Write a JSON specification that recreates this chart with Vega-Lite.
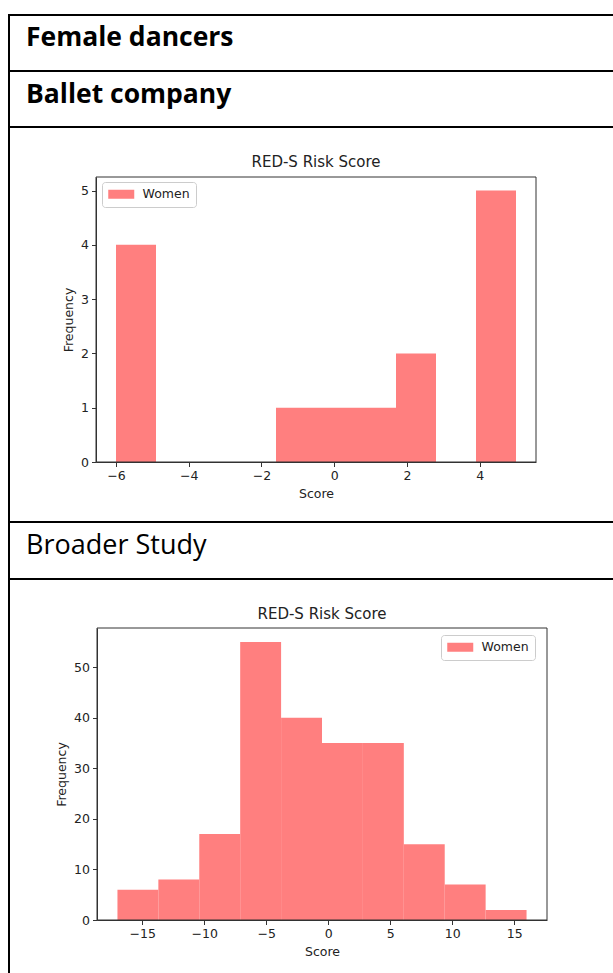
{
  "$schema": "https://vega.github.io/schema/vega-lite/v6.json",
  "padding": {"left": 8, "top": 14, "right": 0, "bottom": 0},
  "spacing": 0,
  "bounds": "flush",
  "background": "white",
  "config": {
    "view": {"stroke": "black", "strokeWidth": 2},
    "font": "DejaVu Sans",
    "axis": {
      "domain": true, "domainColor": "#333333", "domainWidth": 1,
      "ticks": true, "tickColor": "#333333", "tickSize": 4.5, "tickWidth": 1,
      "labelFont": "DejaVu Sans", "labelFontSize": 12.5, "labelColor": "#222222", "labelPadding": 3,
      "labelFlush": false,
      "titleFont": "DejaVu Sans", "titleFontSize": 12.5, "titleFontWeight": "normal", "titleColor": "#222222", "titlePadding": 5,
      "grid": false, "zindex": 1
    },
    "legend": {
      "title": null, "orient": "none",
      "symbolType": "M-2.1667,-0.75H2.1667V0.75H-2.1667Z", "symbolSize": 144, "symbolOffset": 7,
      "symbolStrokeWidth": 0, "symbolOpacity": 1, "labelOffset": 15,
      "labelFont": "DejaVu Sans", "labelFontSize": 12.5, "labelColor": "#222222",
      "padding": 6, "fillColor": "rgba(255,255,255,0.8)", "strokeColor": "#cccccc", "cornerRadius": 3
    }
  },
  "resolve": {"scale": {"color": "independent"}, "legend": {"color": "independent"}},
  "datasets": {
    "ballet": [
      {"bin_start": -6.0, "bin_end": -4.9, "count": 4, "sex": "Women"},
      {"bin_start": -4.9, "bin_end": -3.8, "count": 0, "sex": "Women"},
      {"bin_start": -3.8, "bin_end": -2.7, "count": 0, "sex": "Women"},
      {"bin_start": -2.7, "bin_end": -1.6, "count": 0, "sex": "Women"},
      {"bin_start": -1.6, "bin_end": -0.5, "count": 1, "sex": "Women"},
      {"bin_start": -0.5, "bin_end": 0.6, "count": 1, "sex": "Women"},
      {"bin_start": 0.6, "bin_end": 1.7, "count": 1, "sex": "Women"},
      {"bin_start": 1.7, "bin_end": 2.8, "count": 2, "sex": "Women"},
      {"bin_start": 2.8, "bin_end": 3.9, "count": 0, "sex": "Women"},
      {"bin_start": 3.9, "bin_end": 5.0, "count": 5, "sex": "Women"}
    ],
    "broader": [
      {"bin_start": -17.0, "bin_end": -13.7, "count": 6, "sex": "Women"},
      {"bin_start": -13.7, "bin_end": -10.4, "count": 8, "sex": "Women"},
      {"bin_start": -10.4, "bin_end": -7.1, "count": 17, "sex": "Women"},
      {"bin_start": -7.1, "bin_end": -3.8, "count": 55, "sex": "Women"},
      {"bin_start": -3.8, "bin_end": -0.5, "count": 40, "sex": "Women"},
      {"bin_start": -0.5, "bin_end": 2.8, "count": 35, "sex": "Women"},
      {"bin_start": 2.8, "bin_end": 6.1, "count": 35, "sex": "Women"},
      {"bin_start": 6.1, "bin_end": 9.4, "count": 15, "sex": "Women"},
      {"bin_start": 9.4, "bin_end": 12.7, "count": 7, "sex": "Women"},
      {"bin_start": 12.7, "bin_end": 16.0, "count": 2, "sex": "Women"}
    ]
  },
  "vconcat": [
    {
      "width": 610, "height": 56,
      "data": {"values": [{"row": "Female dancers"}]},
      "mark": {"type": "rect", "fillOpacity": 0, "stroke": "black", "strokeWidth": 2},
      "title": {"text": "Female dancers", "anchor": "start", "frame": "group", "orient": "top", "offset": 0,
        "font": "Open Sans", "fontSize": 26.5, "fontWeight": "bold", "color": "black",
        "baseline": "alphabetic", "dx": 17, "dy": 58}
    },
    {
      "width": 610, "height": 56,
      "data": {"values": [{"row": "Ballet company"}]},
      "mark": {"type": "rect", "fillOpacity": 0, "stroke": "black", "strokeWidth": 2},
      "title": {"text": "Ballet company", "anchor": "start", "frame": "group", "orient": "top", "offset": 0,
        "font": "Open Sans", "fontSize": 26.5, "fontWeight": "bold", "color": "black",
        "baseline": "alphabetic", "dx": 17, "dy": 59}
    },
    {
      "width": 610, "height": 395,
      "title": {"text": "RED-S Risk Score", "anchor": "middle", "frame": "group", "orient": "top", "offset": 0,
        "font": "DejaVu Sans", "fontSize": 15, "fontWeight": "normal", "color": "#222222",
        "baseline": "alphabetic", "dx": 2, "dy": 55},
      "layer": [
        {
          "data": {"name": "ballet"},
          "mark": {"type": "rect"},
          "encoding": {
            "x": {"field": "bin_start", "type": "quantitative",
              "scale": {"domain": [-6.55, 5.55], "range": [87, 527], "nice": false, "zero": false},
              "axis": {"title": "Score", "values": [-6, -4, -2, 0, 2, 4], "format": "d", "offset": -60}},
            "x2": {"field": "bin_end"},
            "y": {"field": "count", "type": "quantitative",
              "scale": {"domain": [0, 5.25], "range": [335, 50], "nice": false, "zero": false},
              "axis": {"title": "Frequency", "values": [0, 1, 2, 3, 4, 5], "format": "d", "offset": -87}},
            "y2": {"datum": 0},
            "color": {"field": "sex", "type": "nominal", "scale": {"range": ["#ff7f7f"]},
              "legend": {"legendX": 93, "legendY": 55}}
          }
        },
        {
          "data": {"values": [{"frame": "plot"}]},
          "mark": {"type": "rect", "fillOpacity": 0, "stroke": "#333333", "strokeWidth": 1},
          "encoding": {
            "x": {"datum": -6.55}, "x2": {"datum": 5.55},
            "y": {"datum": 0}, "y2": {"datum": 5.25}
          }
        }
      ]
    },
    {
      "width": 610, "height": 57,
      "data": {"values": [{"row": "Broader Study"}]},
      "mark": {"type": "rect", "fillOpacity": 0, "stroke": "black", "strokeWidth": 2},
      "title": {"text": "Broader Study", "anchor": "start", "frame": "group", "orient": "top", "offset": 0,
        "font": "Open Sans", "fontSize": 27, "fontWeight": "normal", "color": "black",
        "baseline": "alphabetic", "dx": 17, "dy": 60}
    },
    {
      "width": 610, "height": 400,
      "title": {"text": "RED-S Risk Score", "anchor": "middle", "frame": "group", "orient": "top", "offset": 0,
        "font": "DejaVu Sans", "fontSize": 15, "fontWeight": "normal", "color": "#222222",
        "baseline": "alphabetic", "dx": 8, "dy": 55},
      "layer": [
        {
          "data": {"name": "broader"},
          "mark": {"type": "rect"},
          "encoding": {
            "x": {"field": "bin_start", "type": "quantitative",
              "scale": {"domain": [-18.65, 17.65], "range": [88, 538], "nice": false, "zero": false},
              "axis": {"title": "Score", "values": [-15, -10, -5, 0, 5, 10, 15], "format": "d", "offset": -59}},
            "x2": {"field": "bin_end"},
            "y": {"field": "count", "type": "quantitative",
              "scale": {"domain": [0, 57.75], "range": [341, 49], "nice": false, "zero": false},
              "axis": {"title": "Frequency", "values": [0, 10, 20, 30, 40, 50], "format": "d", "offset": -88}},
            "y2": {"datum": 0},
            "color": {"field": "sex", "type": "nominal", "scale": {"range": ["#ff7f7f"]},
              "legend": {"legendX": 432, "legendY": 56}}
          }
        },
        {
          "data": {"values": [{"frame": "plot"}]},
          "mark": {"type": "rect", "fillOpacity": 0, "stroke": "#333333", "strokeWidth": 1},
          "encoding": {
            "x": {"datum": -18.65}, "x2": {"datum": 17.65},
            "y": {"datum": 0}, "y2": {"datum": 57.75}
          }
        }
      ]
    }
  ]
}
